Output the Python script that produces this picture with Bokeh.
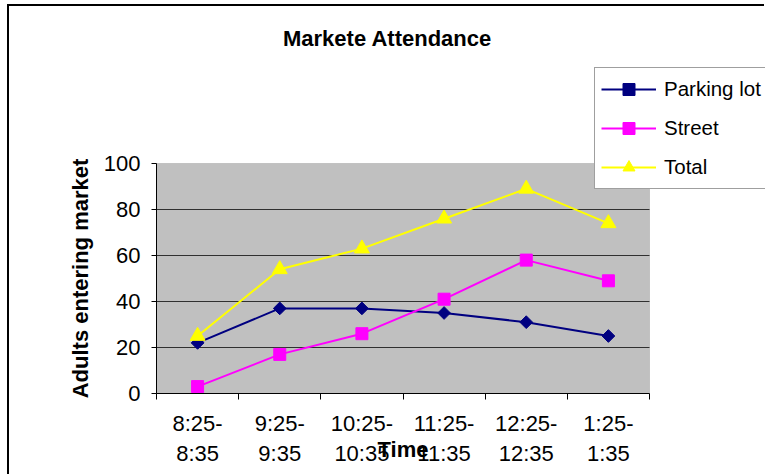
import math
from bokeh.plotting import figure
from bokeh.models import FixedTicker, Range1d, Legend, LegendItem, Label, BoxAnnotation
from bokeh.embed import file_html
from bokeh.resources import INLINE

periods = ["8:25-\n8:35", "9:25-\n9:35", "10:25-\n10:35", "11:25-\n11:35", "12:25-\n12:35", "1:25-\n1:35"]
parking_lot = [22, 37, 37, 35, 31, 25]
street = [3, 17, 26, 41, 58, 49]
total = [25, 54, 63, 76, 89, 74]
y_ticks = [0, 20, 40, 60, 80, 100]
y_max = 100

FONT = "Liberation Sans"
W, H = 757, 470
# plot-area placement inside the canvas (pixels)
PA_L, PA_R, PA_T, PA_B = 147, 640, 157, 387

n = len(periods)
xs = [i + 0.5 for i in range(n)]
px_x = (PA_R - PA_L) / n
px_y = (PA_B - PA_T) / y_max
x_start = -PA_L / px_x
x_end = n + (W - PA_R) / px_x
y_end = y_max + PA_T / px_y
y_start = -(H - PA_B) / px_y

def dx(sx):
    return x_start + sx / px_x

def dy(sy):
    return y_end - sy / px_y

p = figure(width=W, height=H, output_backend="svg", toolbar_location=None,
           x_range=Range1d(x_start, x_end), y_range=Range1d(y_start, y_end),
           min_border=0, min_border_left=0, min_border_right=0, min_border_top=0, min_border_bottom=0,
           styles={"margin-left": "7px", "margin-top": "4px",
                   "border-left": "2px solid black", "border-top": "2px solid black",
                   "box-sizing": "border-box"})
p.background_fill_color = "white"
p.border_fill_color = "white"
p.outline_line_color = None

# plot area
area = BoxAnnotation(left=0, right=n, bottom=0, top=y_max, fill_color="#C0C0C0", fill_alpha=1,
                     line_color="#808080", line_width=1, level="image")
p.add_layout(area)

# grid
p.xgrid.visible = False
p.ygrid.ticker = FixedTicker(ticks=y_ticks[1:-1])
p.ygrid.cross_bounds = (0, n)
p.ygrid.grid_line_color = "#303030"
p.ygrid.grid_line_width = 1

# x axis
xa = p.xaxis[0]
xa.fixed_location = 0
xa.bounds = (0, n)
xa.ticker = FixedTicker(ticks=xs, minor_ticks=list(range(n + 1)))
xa.major_label_overrides = {x: lab for x, lab in zip(xs, periods)}
xa.major_tick_line_color = None
xa.minor_tick_in = 0
xa.minor_tick_out = 6
xa.minor_tick_line_color = "black"
xa.axis_line_color = "black"
xa.major_label_text_font = FONT
xa.major_label_text_font_size = "22px"
xa.major_label_text_color = "black"
xa.major_label_text_line_height = 1.2
xa.major_label_standoff = 11
xa.axis_label = "Time"
xa.axis_label_text_font = FONT
xa.axis_label_text_font_size = "22px"
xa.axis_label_text_font_style = "bold"
xa.axis_label_text_color = "black"
xa.axis_label_standoff = -32

# y axis
ya = p.yaxis[0]
ya.fixed_location = 0
ya.bounds = (0, y_max)
ya.ticker = FixedTicker(ticks=y_ticks)
ya.minor_tick_line_color = None
ya.major_tick_in = 0
ya.major_tick_out = 5
ya.axis_line_color = "black"
ya.major_tick_line_color = "black"
ya.major_label_text_font = FONT
ya.major_label_text_font_size = "22px"
ya.major_label_text_color = "black"
ya.major_label_standoff = 11
ya.axis_label = "Adults entering market"
ya.axis_label_text_font = FONT
ya.axis_label_text_font_size = "22px"
ya.axis_label_text_font_style = "bold"
ya.axis_label_text_color = "black"
ya.axis_label_standoff = 8

# series
l1 = p.line(xs, parking_lot, line_color="#000080", line_width=2)
s1 = p.scatter(xs, parking_lot, marker="square", angle=math.pi / 4, size=9,
               fill_color="#000080", line_color="#000080")
l2 = p.line(xs, street, line_color="#FF00FF", line_width=2)
s2 = p.scatter(xs, street, marker="square", size=12, fill_color="#FF00FF", line_color="#FF00FF")
l3 = p.line(xs, total, line_color="#FFFF00", line_width=2)
s3 = p.scatter(xs, total, marker="triangle", size=15, fill_color="#FFFF00", line_color="#FFFF00")

legend = Legend(items=[LegendItem(label="Parking lot", renderers=[l1, s1]),
                       LegendItem(label="Street", renderers=[l2, s2]),
                       LegendItem(label="Total", renderers=[l3, s3])],
                location=(585, 287))
legend.label_text_font = FONT
legend.label_text_font_size = "20.5px"
legend.label_text_color = "black"
legend.glyph_width = 55
legend.glyph_height = 30
legend.label_height = 30
legend.label_standoff = 8
legend.spacing = 9
legend.padding = 6
legend.margin = 0
legend.border_line_color = "#404040"
legend.border_line_width = 1
legend.background_fill_color = "white"
legend.background_fill_alpha = 1
p.add_layout(legend, "center")

title = Label(x=dx(378), y=dy(32), text="Markete Attendance", text_align="center",
              text_baseline="middle", text_font=FONT, text_font_size="22px",
              text_font_style="bold", text_color="black")
p.add_layout(title)

open("out.html", "w").write(file_html(p, INLINE))
